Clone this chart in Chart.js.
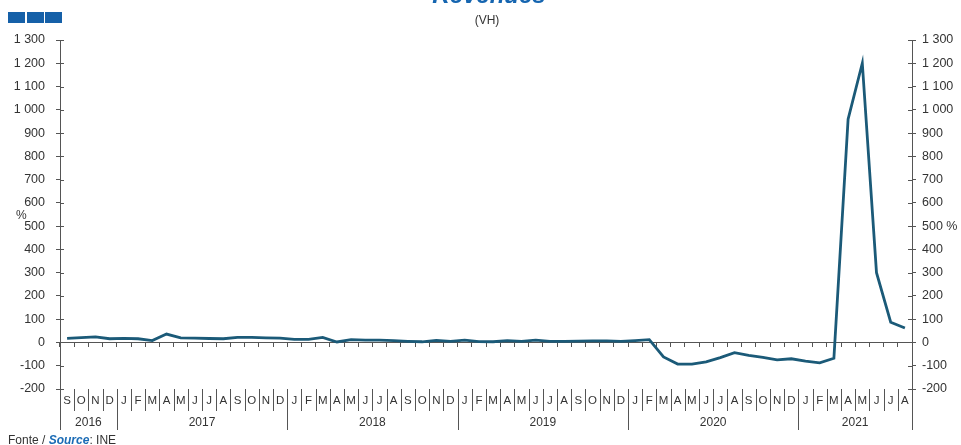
<!DOCTYPE html>
<html>
<head>
<meta charset="utf-8">
<script src="https://cdn.jsdelivr.net/npm/chart.js@4.4.1/dist/chart.umd.min.js"></script>
<style>
  html, body { margin: 0; padding: 0; background: #fff; overflow: hidden; }
  #wrap { position: relative; width: 961px; height: 445px; font-family: "Liberation Sans", Arial, sans-serif; color: #333; }
  #chart { position: absolute; left: 0; top: 0; }
  .logo { position: absolute; top: 12px; width: 17px; height: 11px; background: #1560a8; }
  #title { position: absolute; left: 389px; width: 200px; top: -17px; text-align: center; font-size: 24px; font-weight: bold; font-style: italic; color: #1565b0; line-height: 24px; }
  #subtitle { position: absolute; left: 437px; width: 100px; top: 14px; text-align: center; font-size: 12px; line-height: 12px; }
  #unit { position: absolute; left: 16px; top: 208px; font-size: 12px; }
  #source { position: absolute; left: 8px; top: 433px; font-size: 12px; line-height: 14px; }
  #source b { color: #1a6bb5; font-style: italic; }
</style>
</head>
<body>
<div id="wrap">
  <canvas id="chart" width="961" height="445"></canvas>
  <div class="logo" style="left:8px"></div>
  <div class="logo" style="left:27px"></div>
  <div class="logo" style="left:45px"></div>
  <div id="title">Revenues</div>
  <div id="subtitle">(VH)</div>
  <div id="unit">%</div>
  <div id="source">Fonte / <b>Source</b>: INE</div>
</div>
<script>
'use strict';

/* ════════════════════════════════════════
   Revenues (VH) — dados
   ════════════════════════════════════════ */

var categories = [
  '2016-09', '2016-10', '2016-11', '2016-12',
  '2017-01', '2017-02', '2017-03', '2017-04', '2017-05', '2017-06', '2017-07', '2017-08', '2017-09', '2017-10', '2017-11', '2017-12',
  '2018-01', '2018-02', '2018-03', '2018-04', '2018-05', '2018-06', '2018-07', '2018-08', '2018-09', '2018-10', '2018-11', '2018-12',
  '2019-01', '2019-02', '2019-03', '2019-04', '2019-05', '2019-06', '2019-07', '2019-08', '2019-09', '2019-10', '2019-11', '2019-12',
  '2020-01', '2020-02', '2020-03', '2020-04', '2020-05', '2020-06', '2020-07', '2020-08', '2020-09', '2020-10', '2020-11', '2020-12',
  '2021-01', '2021-02', '2021-03', '2021-04', '2021-05', '2021-06', '2021-07', '2021-08'
];

var revenues = [
  18, 21, 24, 16,
  18, 16, 8, 36, 20, 19, 17, 16, 22, 22, 20, 19,
  13, 13, 22, 2, 12, 10, 10, 8, 5, 3, 9, 5,
  10, 4, 3, 8, 5, 10, 5, 5, 6, 7, 7, 5,
  8, 12, -62, -93, -93, -83, -65, -44, -55, -64, -75, -70,
  -80, -88, -68, 960, 1200, 300, 87, 62
];

var monthLetters = ['J', 'F', 'M', 'A', 'M', 'J', 'J', 'A', 'S', 'O', 'N', 'D'];

var yMin = -200;
var yMax = 1300;
var yStep = 100;

var AXIS_COLOR = '#555';
var TEXT_COLOR = '#333';
var LINE_COLOR = '#1b5a78';
var FONT = '"Liberation Sans", Arial, sans-serif';

/* ─── formato "1 300" ─── */
function fmtNumber(v) {
  return String(v).replace(/\B(?=(\d{3})+(?!\d))/g, ' ');
}

/* ─── meses / anos por baixo do gráfico + ticks cruzados ─── */
var periodLabelsPlugin = {
  id: 'periodLabels',
  afterDraw: function (chart) {
    var ctx = chart.ctx;
    var xs = chart.scales.x;
    var area = chart.chartArea;
    var half = (xs.getPixelForValue(1) - xs.getPixelForValue(0)) / 2;

    ctx.save();
    ctx.strokeStyle = AXIS_COLOR;
    ctx.lineWidth = 1;
    ctx.fillStyle = TEXT_COLOR;
    ctx.textAlign = 'center';
    ctx.textBaseline = 'middle';

    var yearStart = 0;
    for (var i = 0; i <= categories.length; i++) {
      var year = i < categories.length ? categories[i].substring(0, 4) : null;
      var bx = Math.round(xs.getPixelForValue(i) - half) + 0.5;
      var newYear = i === 0 || i === categories.length || year !== categories[i - 1].substring(0, 4);

      // separador
      ctx.beginPath();
      ctx.moveTo(bx, area.bottom);
      ctx.lineTo(bx, area.bottom + (newYear ? 41 : 22));
      ctx.stroke();

      // rótulo do ano anterior
      if (newYear && i > 0) {
        var x0 = xs.getPixelForValue(yearStart) - half;
        var x1 = xs.getPixelForValue(i - 1) + half;
        ctx.font = '12px ' + FONT;
        ctx.fillText(categories[i - 1].substring(0, 4), (x0 + x1) / 2, area.bottom + 34);
        yearStart = i;
      }

      if (i < categories.length) {
        var m = parseInt(categories[i].substring(5), 10);
        ctx.font = '11.5px ' + FONT;
        ctx.fillText(monthLetters[m - 1], xs.getPixelForValue(i), area.bottom + 12);
      }
    }

    // parte interior dos ticks do eixo Y
    var ys = chart.scales.y;
    for (var j = 0; j < ys.ticks.length; j++) {
      var py = Math.round(ys.getPixelForValue(ys.ticks[j].value)) + 0.5;
      ctx.beginPath();
      ctx.moveTo(area.left, py);
      ctx.lineTo(area.left + 4, py);
      ctx.moveTo(area.right - 4, py);
      ctx.lineTo(area.right, py);
      ctx.stroke();
    }
    ctx.restore();
  }
};

/* ─── gráfico ─── */
var yAxisBase = {
  type: 'linear',
  min: yMin,
  max: yMax,
  grid: { drawOnChartArea: false, color: AXIS_COLOR, tickLength: 4 },
  border: { color: AXIS_COLOR }
};

new Chart(document.getElementById('chart'), {
  type: 'line',
  data: {
    labels: categories,
    datasets: [{
      data: revenues,
      borderColor: LINE_COLOR,
      borderWidth: 2.8,
      pointRadius: 0,
      tension: 0,
      fill: false
    }]
  },
  plugins: [periodLabelsPlugin],
  options: {
    responsive: false,
    animation: false,
    layout: { padding: { top: 40, bottom: 56, left: 0, right: 0 } },
    plugins: {
      legend: { display: false },
      title: { display: false },
      tooltip: { enabled: false }
    },
    scales: {
      x: {
        type: 'category',
        offset: true,
        position: { y: 0 },
        ticks: { display: false, autoSkip: false },
        grid: { drawOnChartArea: false, offset: true, color: AXIS_COLOR, tickLength: 4 },
        border: { color: AXIS_COLOR }
      },
      y: Object.assign({}, yAxisBase, {
        position: 'left',
        ticks: {
          stepSize: yStep,
          padding: 11,
          color: TEXT_COLOR,
          font: { family: FONT, size: 12.5 },
          callback: function (v) { return fmtNumber(v); }
        },
        afterFit: function (scale) { scale.width = 60; }
      }),
      y2: Object.assign({}, yAxisBase, {
        position: 'right',
        ticks: {
          stepSize: yStep,
          padding: 6,
          color: TEXT_COLOR,
          font: { family: FONT, size: 12.5 },
          callback: function (v) { return v === 500 ? '500 %' : fmtNumber(v); }
        },
        afterFit: function (scale) { scale.width = 49; }
      })
    }
  }
});
</script>
</body>
</html>
